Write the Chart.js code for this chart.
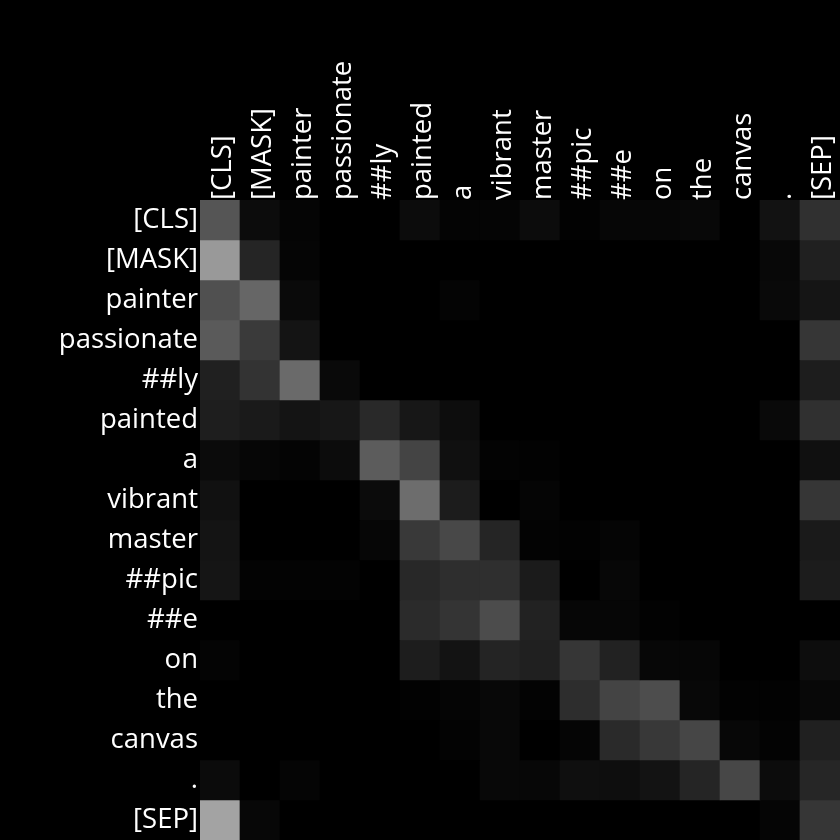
<!DOCTYPE html>
<html>
<head>
<meta charset="utf-8">
<script src="https://cdn.jsdelivr.net/npm/chart.js@4/dist/chart.umd.min.js"></script>
<style>
html,body{margin:0;padding:0;background:#000;}
#wrap{width:840px;height:840px;position:relative;}
</style>
</head>
<body>
<div id="wrap"><canvas id="c" width="840" height="840"></canvas></div>
<script>
const tokens = ["[CLS]","[MASK]","painter","passionate","##ly","painted","a","vibrant","master","##pic","##e","on","the","canvas",".","[SEP]"];
// attention intensities (0-255 grey levels), one array per query row
const rowCLS        = [85,12,5,0,0,12,4,5, 12,2,6,6,8,0,18,48];
const rowMASK       = [153,37,5,0,0,0,0,0, 0,0,0,0,0,0,8,32];
const rowPainter    = [80,102,10,0,0,0,4,0, 0,0,0,0,0,0,9,21];
const rowPassionate = [90,58,20,0,0,0,0,0, 0,0,0,0,0,0,0,54];
const rowLy         = [32,51,106,9,0,0,0,0, 0,0,0,0,0,0,0,29];
const rowPainted    = [30,26,20,23,41,23,13,0, 0,0,0,0,0,0,9,48];
const rowA          = [11,6,4,12,92,68,16,3, 2,0,0,0,0,0,0,16];
const rowVibrant    = [17,0,0,0,11,109,28,0, 5,0,0,0,0,0,0,54];
const rowMaster     = [20,0,0,0,6,57,72,37, 3,2,5,0,0,0,0,26];
const rowPic        = [21,3,3,3,0,40,46,47, 27,0,7,0,0,0,0,28];
const rowE          = [0,0,0,0,0,43,52,76, 34,6,6,2,0,0,0,0];
const rowOn         = [4,0,0,0,0,29,19,36, 32,54,34,7,6,0,0,13];
const rowThe        = [0,0,0,0,0,2,5,8, 3,45,68,77,8,2,2,8];
const rowCanvas     = [0,0,0,0,0,0,3,8, 0,5,42,56,70,7,3,32];
const rowDot        = [11,0,5,0,0,0,0,8, 7,15,14,19,37,71,12,38];
const rowSEP        = [163,7,0,0,0,0,0,0, 0,0,0,0,0,0,5,54];
const rows = [rowCLS,rowMASK,rowPainter,rowPassionate,rowLy,rowPainted,rowA,rowVibrant,rowMaster,rowPic,rowE,rowOn,rowThe,rowCanvas,rowDot,rowSEP];

const FONT = "'Open Sans', 'Noto Sans', sans-serif";
const FSIZE = 27.5;

const datasets = rows.map((vals, r) => ({
  label: tokens[r],
  data: vals.map(() => [r, r + 1]),
  backgroundColor: vals.map(v => `rgb(${v},${v},${v})`),
  borderWidth: 0,
  borderSkipped: false,
  grouped: false,
  barPercentage: 1.0,
  categoryPercentage: 1.0
}));

new Chart(document.getElementById('c'), {
  type: 'bar',
  data: { labels: tokens, datasets },
  options: {
    responsive: false,
    animation: false,
    layout: { padding: 0 },
    plugins: { legend: { display: false }, tooltip: { enabled: false } },
    scales: {
      x: {
        type: 'category',
        position: 'top',
        offset: true,
        grid: { display: false, drawTicks: false },
        border: { display: false },
        ticks: {
          color: '#fff',
          font: { family: FONT, size: FSIZE },
          minRotation: 90, maxRotation: 90,
          autoSkip: false,
          padding: 0,
          labelOffset: 36
        },
        afterFit: (s) => { s.height = 200; s.paddingLeft = 0; s.paddingRight = 0; }
      },
      y: {
        type: 'linear',
        min: 0, max: 16,
        reverse: true,
        grid: { display: false, drawTicks: false },
        border: { display: false },
        afterBuildTicks: (axis) => { axis.ticks = tokens.map((_, i) => ({ value: i + 0.5 })); },
        ticks: {
          color: '#fff',
          font: { family: FONT, size: FSIZE },
          autoSkip: false,
          padding: 2,
          callback: (v, i) => tokens[i]
        },
        afterFit: (s) => { s.width = 200; s.paddingTop = 0; s.paddingBottom = 0; }
      }
    }
  }
});
</script>
</body>
</html>
